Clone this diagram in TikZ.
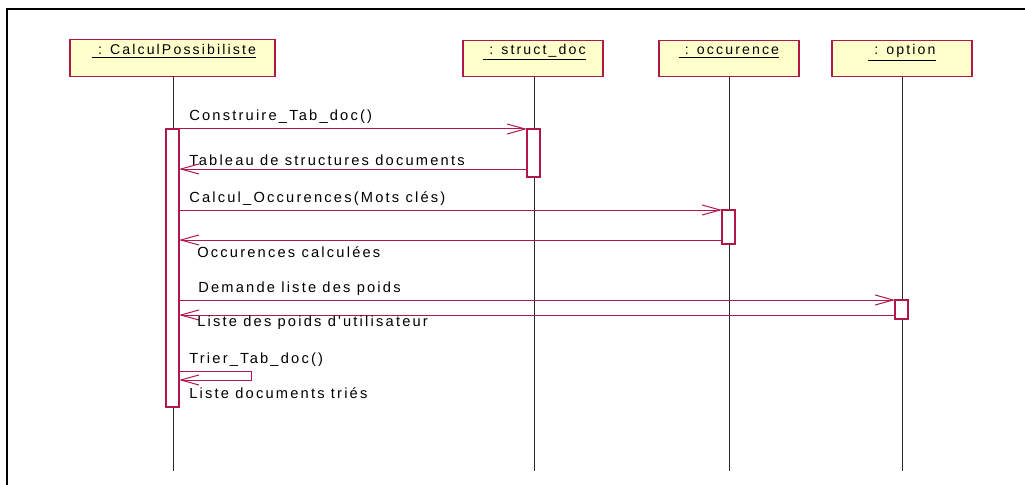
\documentclass[tikz,border=0pt]{standalone}
\usepackage{fontspec}
\setmainfont{Liberation Sans}
\newfontfamily\lblfont[LetterSpace=15]{Liberation Sans}
\usetikzlibrary{arrows.meta}
\definecolor{umlred}{RGB}{176,24,72}
\definecolor{umlfill}{RGB}{255,255,204}
\tikzset{
  hdrbox/.style={draw=umlred, fill=umlfill, line width=0.8pt, inner sep=0pt, outer sep=0pt, minimum height=27.4pt},
  hdrtext/.style={anchor=base, inner sep=0pt, font=\lblfont\fontsize{10.6pt}{12pt}\selectfont},
  actbox/.style={draw=umlred, fill=white, line width=0.8pt, inner sep=0pt, outer sep=0pt, minimum width=9.75pt},
  lifeline/.style={draw=black!85, line width=0.75pt},
  msg/.style={draw=umlred, line width=0.75pt, -{Straight Barb[length=13.5pt,width=7.5pt,line width=0.75pt]}},
  lbl/.style={anchor=base west, inner sep=0pt, font=\lblfont\fontsize{11pt}{13pt}\selectfont},
}
\begin{document}
\begin{tikzpicture}[x=0.75pt, y=-0.75pt]
\useasboundingbox (0,0) rectangle (1025,485);
\clip (0,0) rectangle (1025,485);
\fill[white] (0,0) rectangle (1025,485);
\draw[line width=1.8pt, black] (7,9) rectangle (1040,500);

% headers
\node[hdrbox, minimum width=153.75pt] (h1) at (172.5,58) {};
\node[hdrbox, minimum width=105pt] (h2) at (533,58.5) {};
\node[hdrbox, minimum width=105pt] (h3) at (729,58.5) {};
\node[hdrbox, minimum width=105pt] (h4) at (902,58.5) {};
\node[hdrtext] (t1) at (174,55) {\underline{\ : CalculPossibiliste}};
\node[hdrtext] (t2) at (534.5,55) {\underline{\ : struct\_doc}};
\node[hdrtext] (t3) at (729,55) {\underline{\ : occurence}};
\node[hdrtext] (t4) at (902,55) {\underline{\ : option}};

% lifelines
\coordinate (e1) at (173,471);
\coordinate (e2) at (534,471);
\coordinate (e3) at (729,471);
\coordinate (e4) at (902,471);
\draw[lifeline] (h1.south -| e1) -- (e1);
\draw[lifeline] (h2.south -| e2) -- (e2);
\draw[lifeline] (h3.south -| e3) -- (e3);
\draw[lifeline] (h4.south -| e4) -- (e4);

% activations
\node[actbox, minimum height=208.5pt] (a1) at (172.5,268) {};
\node[actbox, minimum height=36pt] (a2) at (533.5,153) {};
\node[actbox, minimum height=25.5pt] (a3) at (728.5,227) {};
\node[actbox, minimum height=14.25pt] (a4) at (901.5,309.5) {};

% messages
\draw[msg] (a1.east |- 0,129) -- (a2.west |- 0,129);
\draw[msg] (a2.west |- 0,169) -- (a1.east |- 0,169);
\draw[msg] (a1.east |- 0,210) -- (a3.west |- 0,210);
\draw[msg] (a3.west |- 0,240) -- (a1.east |- 0,240);
\draw[msg] (a1.east |- 0,300) -- (a4.west |- 0,300);
\draw[msg] (a4.west |- 0,315) -- (a1.east |- 0,315);
\coordinate (s1) at (251,371);
\coordinate (s2) at (251,380);
\draw[msg] (a1.east |- s1) -- (s1) -- (s2) -- (a1.east |- s2);

% labels
\node[lbl] (l1) at (189,121) {Construire\_Tab\_doc()};
\node[lbl] (l2) at (189,166) {Tableau de structures documents};
\node[lbl] (l3) at (189,202) {Calcul\_Occurences(Mots clés)};
\node[lbl] (l4) at (197,257) {Occurences calculées};
\node[lbl] (l5) at (198,292) {Demande liste des poids};
\node[lbl] (l6) at (197,326) {Liste des poids d'utilisateur};
\node[lbl] (l7) at (189,363) {Trier\_Tab\_doc()};
\node[lbl] (l8) at (189,398) {Liste documents triés};
\end{tikzpicture}
\end{document}
